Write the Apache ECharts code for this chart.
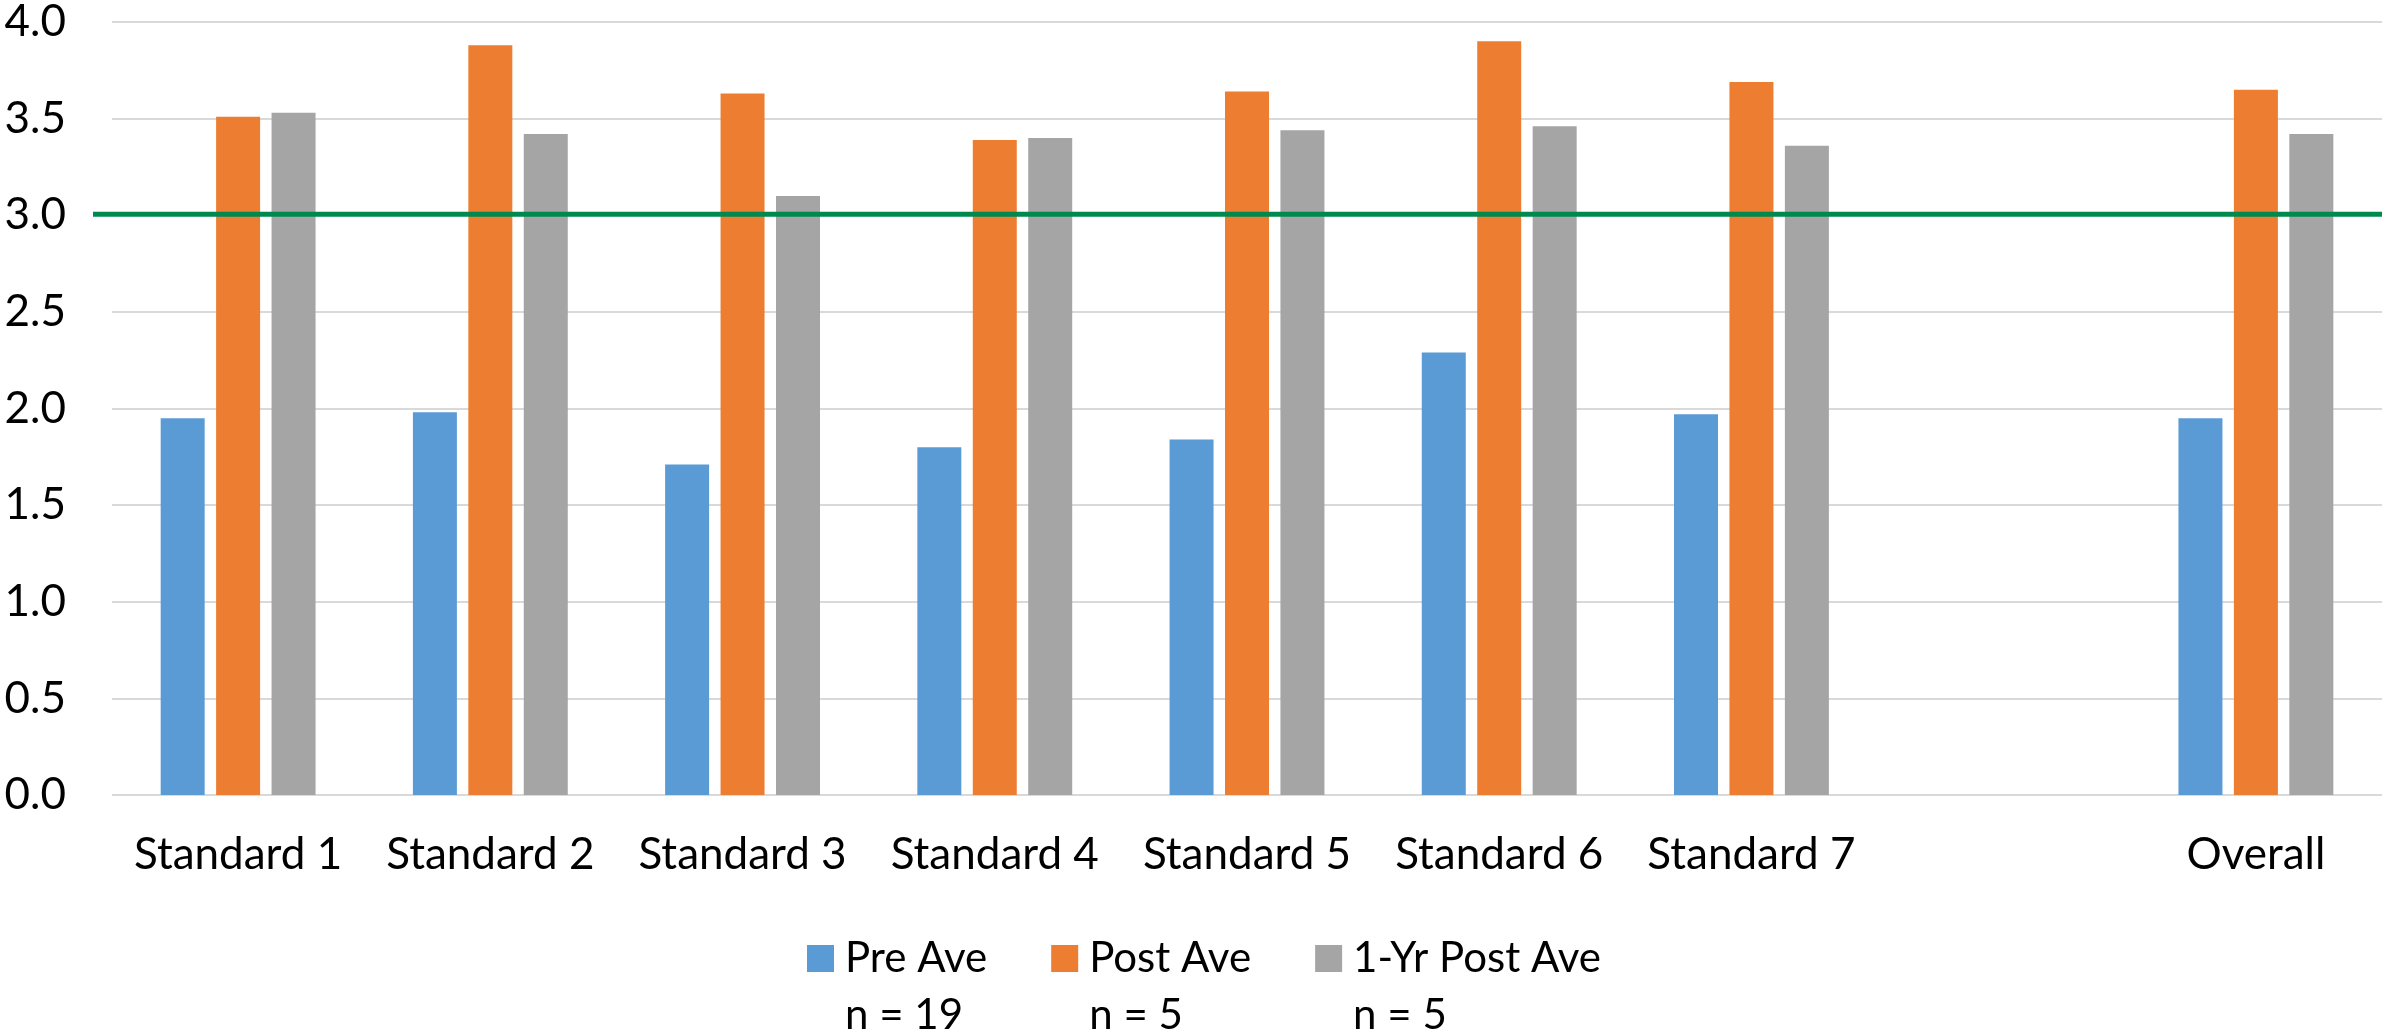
<!DOCTYPE html>
<html>
<head>
<meta charset="utf-8">
<script src="https://cdn.jsdelivr.net/npm/echarts@6/dist/echarts.min.js"></script>
<style>
  html, body { margin: 0; padding: 0; background: #fff; }
  #chart { width: 2382px; height: 1034px; }
</style>
</head>
<body>
<div id="chart"></div>
<script>
// Categories (an empty slot separates the standards from the overall score)
const categories = ['Standard 1', 'Standard 2', 'Standard 3', 'Standard 4', 'Standard 5', 'Standard 6', 'Standard 7', '', 'Overall'];

// Series values
const preAve      = [1.95, 1.98, 1.71, 1.80, 1.84, 2.29, 1.97, null, 1.95];
const postAve     = [3.51, 3.88, 3.63, 3.39, 3.64, 3.90, 3.69, null, 3.65];
const oneYrPost   = [3.53, 3.42, 3.10, 3.40, 3.44, 3.46, 3.36, null, 3.42];

// Legend names and sample sizes
const seriesNames = ['Pre Ave', 'Post Ave', '1-Yr Post Ave'];
const sampleSizes = [19, 5, 5];

// Target level drawn as a horizontal line
const target = 3.0;

// Y axis range
const yMin = 0, yMax = 4, yStep = 0.5;

const colors = ['#5B9BD5', '#ED7D31', '#A5A5A5'];
const FONT = 'Lato, "Open Sans", sans-serif';

const chart = echarts.init(document.getElementById('chart'), null, { renderer: 'canvas' });

const barSeries = [preAve, postAve, oneYrPost].map((vals, i) => ({
  name: seriesNames[i],
  type: 'bar',
  xAxisIndex: 0,
  yAxisIndex: 0,
  data: vals,
  barWidth: 44,
  barGap: '26%',
  itemStyle: { color: colors[i] },
  emphasis: { disabled: true },
  z: 2
}));

const option = {
  animation: false,
  backgroundColor: '#ffffff',
  grid: [
    { left: 112, width: 2273, top: 20.7, bottom: 239 },
    { left: 93, right: 0, top: 20.7, bottom: 239 }
  ],
  xAxis: [
    {
      type: 'category',
      gridIndex: 0,
      data: categories,
      axisLine: { show: false },
      axisTick: { show: false },
      axisLabel: {
        color: '#000',
        fontFamily: FONT,
        fontSize: 44,
        margin: 38,
        interval: 0
      }
    },
    { type: 'value', gridIndex: 1, min: 0, max: 1, show: false }
  ],
  yAxis: [
    {
      type: 'value',
      gridIndex: 0,
      min: yMin,
      max: yMax,
      interval: yStep,
      axisLine: { show: false },
      axisTick: { show: false },
      splitLine: { lineStyle: { color: '#D9D9D9', width: 2 } },
      axisLabel: {
        color: '#000',
        fontFamily: FONT,
        fontSize: 44,
        margin: 46,
        formatter: v => v.toFixed(1)
      }
    },
    { type: 'value', gridIndex: 1, min: yMin, max: yMax, show: false }
  ],
  legend: {
    data: seriesNames,
    left: 802,
    top: 868,
    icon: 'rect',
    itemWidth: 27,
    itemHeight: 27,
    itemGap: 64,
    selectedMode: false,
    formatter: name => '\n' + name + '\nn = ' + sampleSizes[seriesNames.indexOf(name)],
    textStyle: {
      color: '#000',
      fontFamily: FONT,
      fontSize: 42,
      lineHeight: 57,
      padding: [0, 0, 0, 6]
    }
  },
  series: [
    ...barSeries,
    {
      name: 'Target',
      type: 'line',
      xAxisIndex: 1,
      yAxisIndex: 1,
      data: [[0, target], [1, target]],
      symbol: 'none',
      lineStyle: { color: '#00894F', width: 5 },
      emphasis: { disabled: true },
      silent: true,
      z: 5
    }
  ]
};

chart.setOption(option);
</script>
</body>
</html>
